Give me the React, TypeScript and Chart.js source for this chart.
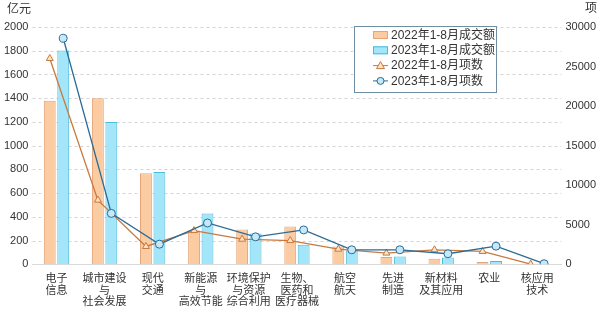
import React, { useEffect, useRef } from "react";
import { Chart, registerables } from "chart.js";
Chart.register(...registerables);

const categories: string[][] = [
  ["电子", "信息"],
  ["城市建设", "与", "社会发展"],
  ["现代", "交通"],
  ["新能源", "与", "高效节能"],
  ["环境保护", "与资源", "综合利用"],
  ["生物、", "医药和", "医疗器械"],
  ["航空", "航天"],
  ["先进", "制造"],
  ["新材料", "及其应用"],
  ["农业"],
  ["核应用", "技术"],
];
const amount2022 = [1378, 1400, 767, 285, 293, 318, 150, 61, 48, 20, 5];
const amount2023 = [1801, 1199, 778, 429, 260, 165, 117, 67, 58, 28, 4];
const count2022 = [26020, 8120, 2260, 4270, 3180, 3010, 1920, 1420, 1840, 1630, 40];
const count2023 = [28580, 6440, 2550, 5230, 3480, 4350, 1840, 1840, 1340, 2300, 80];
const seriesNames = ["2022年1-8月成交额", "2023年1-8月成交额", "2022年1-8月项数", "2023年1-8月项数"];
const leftTitle = "亿元";
const rightTitle = "项";

const FONT = '"Liberation Sans", "Noto Sans CJK SC", sans-serif';

const alignPlugin = {
  id: "alignPoints",
  afterDatasetsUpdate(chart: any) {
    const pairs: [number, number][] = [[2, 0], [3, 1]];
    pairs.forEach(([li, bi]) => {
      const lm = chart.getDatasetMeta(li);
      const bm = chart.getDatasetMeta(bi);
      lm.data.forEach((p: any, k: number) => {
        if (bm.data[k]) p.x = bm.data[k].x;
      });
    });
  },
};

const gridPlugin = {
  id: "dashGrid",
  beforeDatasetsDraw(chart: any) {
    const ctx = chart.ctx;
    const y = chart.scales.y;
    const area = chart.chartArea;
    ctx.save();
    ctx.strokeStyle = "#d4d4d4";
    ctx.lineWidth = 1;
    ctx.setLineDash([3, 3]);
    y.ticks.forEach((t: any) => {
      if (t.value === 0) return;
      const py = Math.round(y.getPixelForValue(t.value)) + 0.5;
      ctx.beginPath();
      ctx.moveTo(area.left, py);
      ctx.lineTo(area.right, py);
      ctx.stroke();
    });
    ctx.restore();
  },
};

const decorPlugin = {
  id: "decor",
  afterDraw(chart: any) {
    const ctx = chart.ctx;
    ctx.save();
    ctx.fillStyle = "#333";
    ctx.font = `12px ${FONT}`;
    ctx.textBaseline = "middle";
    ctx.textAlign = "left";
    ctx.fillText(leftTitle, 7, 10);
    ctx.textAlign = "right";
    ctx.fillText(rightTitle, 597, 9);

    const x0 = 354.5, y0 = 26.5, w = 142, h = 66;
    ctx.fillStyle = "#fff";
    ctx.fillRect(x0, y0, w, h);
    ctx.strokeStyle = "#6f8ea3";
    ctx.lineWidth = 1;
    ctx.strokeRect(x0, y0, w, h);
    const ds = chart.data.datasets;
    ctx.font = `12px ${FONT}`;
    ctx.textAlign = "left";
    for (let i = 0; i < 4; i++) {
      const cy = 35 + i * 15.3;
      const d = ds[i];
      if (i < 2) {
        ctx.fillStyle = d.backgroundColor;
        ctx.fillRect(373, cy - 4, 15, 8);
        ctx.strokeStyle = d.borderColor;
        ctx.strokeRect(373.5, cy - 3.5, 14, 7);
      } else {
        ctx.strokeStyle = d.borderColor;
        ctx.beginPath();
        ctx.moveTo(373, cy);
        ctx.lineTo(388, cy);
        ctx.stroke();
        ctx.fillStyle = d.pointBackgroundColor;
        ctx.beginPath();
        if (i === 2) {
          ctx.moveTo(380.5, cy - 4);
          ctx.lineTo(384.5, cy + 3);
          ctx.lineTo(376.5, cy + 3);
          ctx.closePath();
        } else {
          ctx.arc(380.5, cy, 3.5, 0, Math.PI * 2);
        }
        ctx.fill();
        ctx.stroke();
      }
      ctx.fillStyle = "#333";
      ctx.fillText(d.label, 391, cy + 0.5);
    }
    ctx.restore();
  },
};

export default function App() {
  const ref = useRef<HTMLCanvasElement>(null);
  useEffect(() => {
    if (!ref.current) return;
    const chart = new Chart(ref.current, {
      type: "bar",
      data: {
        labels: categories,
        datasets: [
          {
            type: "bar",
            label: seriesNames[0],
            data: amount2022,
            backgroundColor: "#fbcba2",
            borderColor: "#e6a477",
            borderWidth: 1,
            yAxisID: "y",
            order: 2,
          },
          {
            type: "bar",
            label: seriesNames[1],
            data: amount2023,
            backgroundColor: "#a3e6f9",
            borderColor: "#4dbad9",
            borderWidth: 1,
            yAxisID: "y",
            order: 2,
          },
          {
            type: "line",
            label: seriesNames[2],
            data: count2022,
            borderColor: "#c9793d",
            backgroundColor: "#c9793d",
            pointBackgroundColor: "#fde3c8",
            pointBorderColor: "#c9793d",
            pointStyle: "triangle",
            pointRadius: 4,
            borderWidth: 1.3,
            pointBorderWidth: 1,
            tension: 0,
            yAxisID: "y1",
            order: 1,
          } as any,
          {
            type: "line",
            label: seriesNames[3],
            data: count2023,
            borderColor: "#2b6b97",
            backgroundColor: "#2b6b97",
            pointBackgroundColor: "#c6e9f8",
            pointBorderColor: "#2b6b97",
            pointStyle: "circle",
            pointRadius: 4,
            borderWidth: 1.3,
            pointBorderWidth: 1,
            tension: 0,
            yAxisID: "y1",
            order: 0,
          } as any,
        ],
      },
      options: {
        animation: false,
        responsive: false,
        layout: { padding: { top: 27, left: 0, right: 0, bottom: 3 } },
        plugins: { legend: { display: false }, tooltip: { enabled: false } },
        datasets: { bar: { categoryPercentage: 0.56, barPercentage: 0.88 } },
        scales: {
          x: {
            grid: { display: false, drawTicks: false },
            border: { color: "#d9d9d9" },
            ticks: { color: "#333", font: { family: FONT, size: 11, lineHeight: 1.05 }, padding: 9, maxRotation: 0, autoSkip: false },
          },
          y: {
            position: "left",
            min: 0,
            max: 2000,
            ticks: { stepSize: 200, color: "#333", font: { family: FONT, size: 11 }, padding: 4, callback: (v: any) => String(v) },
            grid: { display: false, drawTicks: false },
            border: { display: false },
          },
          y1: {
            position: "right",
            min: 0,
            max: 30000,
            ticks: { stepSize: 5000, color: "#333", font: { family: FONT, size: 11 }, padding: 4, callback: (v: any) => String(v) },
            grid: { display: false, drawTicks: false },
            border: { display: false },
          },
        },
      },
      plugins: [alignPlugin, gridPlugin, decorPlugin],
    });
    return () => chart.destroy();
  }, []);
  return (
    <div style={{ position: "fixed", left: 0, top: 0, width: 600, height: 320, background: "#fff" }}>
      <canvas ref={ref} width={600} height={320} style={{ width: 600, height: 320 }} />
    </div>
  );
}
